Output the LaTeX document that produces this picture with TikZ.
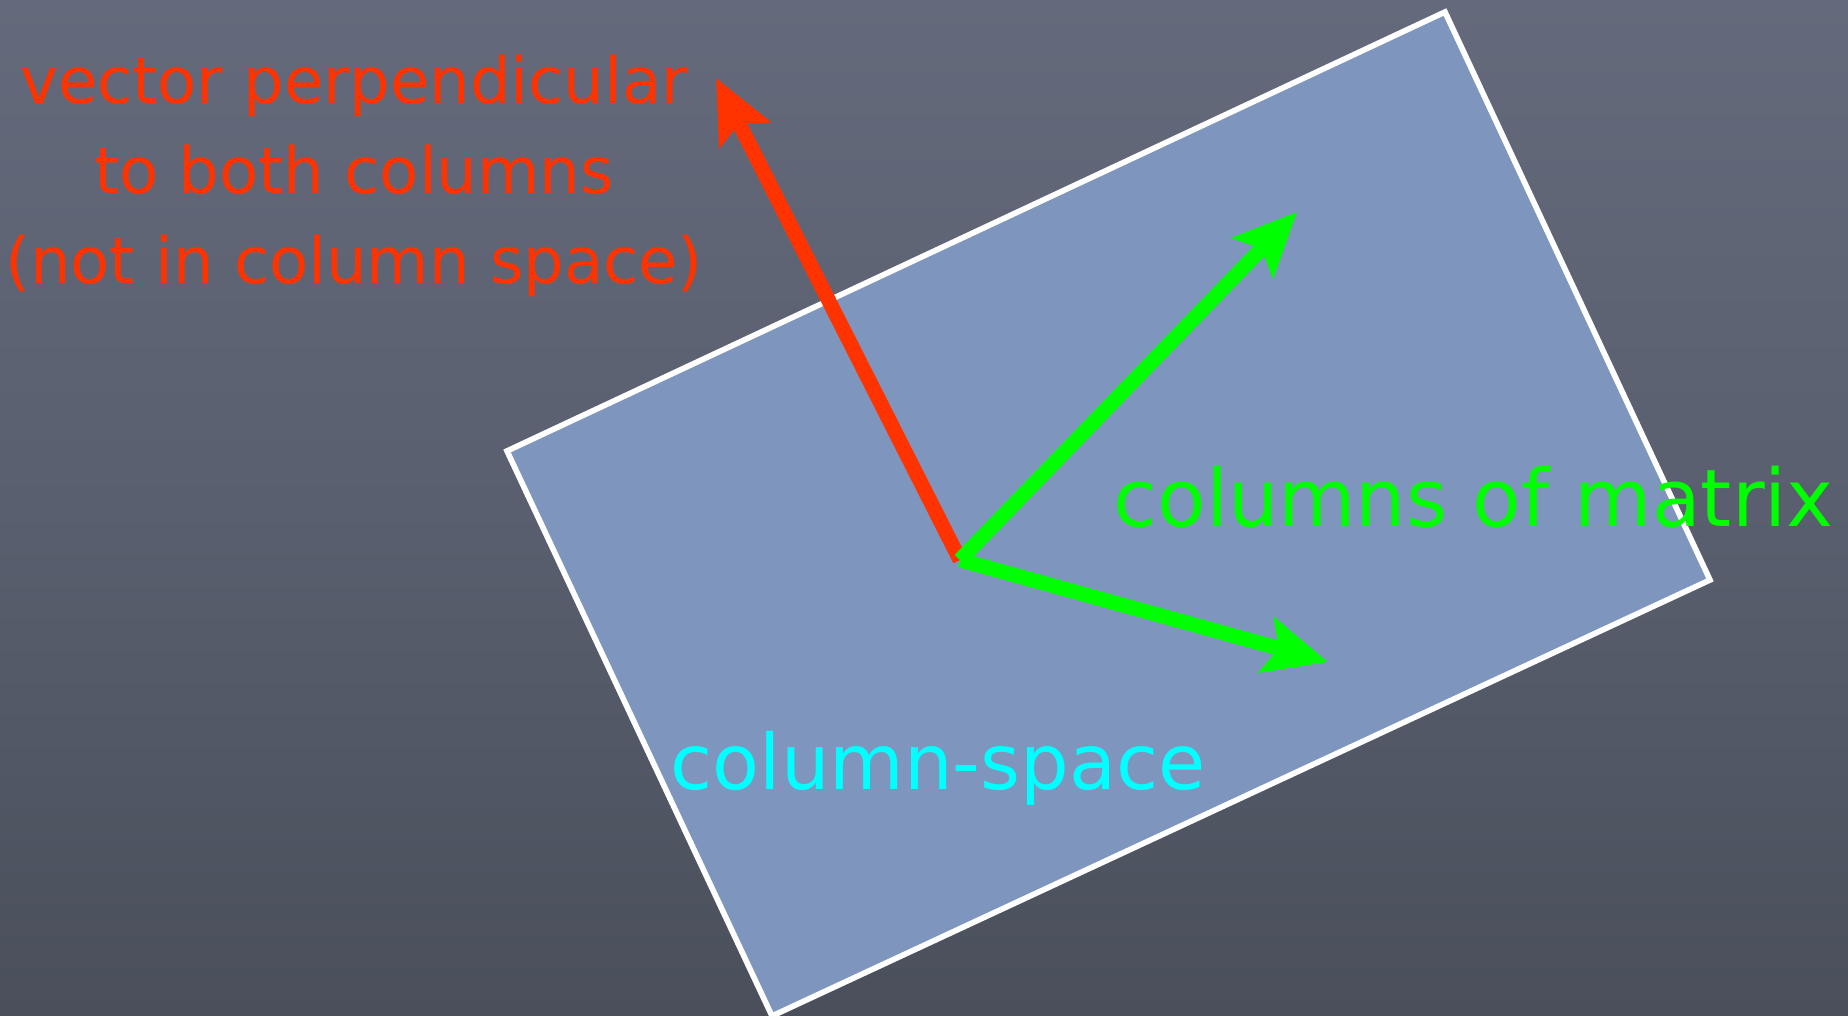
\documentclass[tikz,border=0pt]{standalone}
\usepackage{fontspec}
\setmainfont{DejaVu Sans}
\usetikzlibrary{arrows.meta,positioning,calc}
\definecolor{board}{HTML}{595F6E}
\definecolor{boardtop}{HTML}{646A7B}
\definecolor{boardbot}{HTML}{4A4F5B}
\definecolor{plane}{HTML}{7E96BD}
\definecolor{perpred}{HTML}{FF3300}
\definecolor{colgreen}{HTML}{00FF00}
\definecolor{spacecyan}{HTML}{00FFFF}

\begin{document}
\begin{tikzpicture}[
    x=0.01cm, y=-0.01cm,
    vec/.style={line width=4.2pt, -{Stealth[length=18pt,width=16pt,inset=3.5pt]}},
    lbl/.style={align=center, inner sep=0pt}
]
    % --- Chalkboard ---
    \shade[top color=boardtop, bottom color=boardbot, middle color=board] (0,0) rectangle (1848,1016);
    \useasboundingbox (0,0) rectangle (1848,1016);

    % --- Column space plane ---
    \coordinate (p1) at (507,451);
    \coordinate (p2) at (1445,12);
    \coordinate (p3) at (1710,580);
    \coordinate (p4) at (772,1016);
    \draw[white, line width=1.6pt, fill=plane] (p1) -- (p2) -- (p3) -- (p4) -- cycle;

    % --- Vectors ---
    \coordinate (o) at (960,560);
    \coordinate (r) at (716,78);
    \coordinate (g1) at (1297,212);
    \coordinate (g2) at (1328,662);
    \draw[vec, perpred] (o) -- (r);
    \draw[vec, colgreen] (o) -- (g1);
    \draw[vec, colgreen] (o) -- (g2);

    % --- Labels ---
    \node[lbl, text=perpred, font=\fontsize{18.2}{25.5}\selectfont] (perp) at (354,176) {vector perpendicular\\to both columns\\(not in column space)};
    \node[lbl, text=colgreen, anchor=west, font=\fontsize{22.6}{27}\selectfont] (cols) at (1113,497) {columns of matrix};
    \node[lbl, text=spacecyan, font=\fontsize{21.8}{26}\selectfont] (cspace) at (938,768) {column-space};
\end{tikzpicture}
\end{document}
